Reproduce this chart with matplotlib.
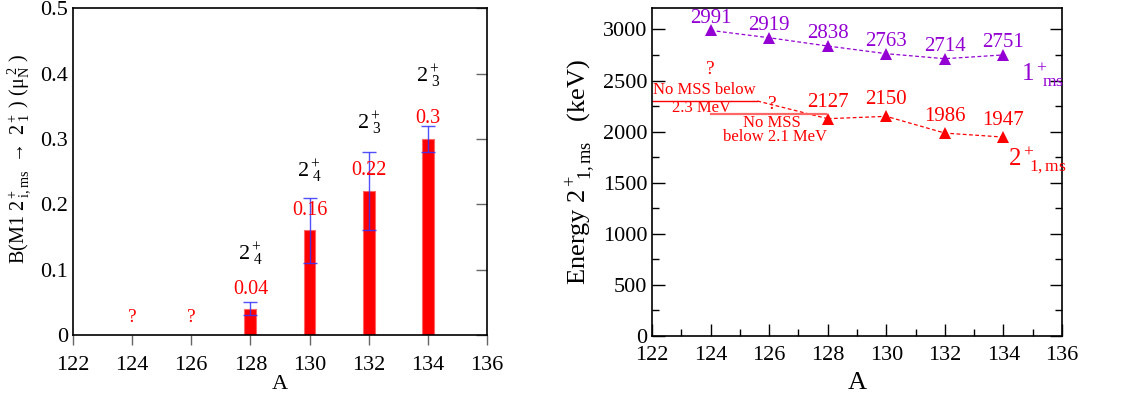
import matplotlib
matplotlib.use("Agg")
import matplotlib.pyplot as plt
from matplotlib.ticker import MultipleLocator, FuncFormatter

plt.rcParams['font.family'] = ['Liberation Serif', 'DejaVu Serif']
plt.rcParams['mathtext.fontset'] = 'custom'
plt.rcParams['mathtext.rm'] = 'Liberation Serif'
plt.rcParams['mathtext.it'] = 'Liberation Serif:italic'
plt.rcParams['mathtext.default'] = 'rm'

# ---------------- data ----------------
A_bar = [128, 130, 132, 134]
BM1 = [0.04, 0.16, 0.22, 0.30]
err_lo = [0.03, 0.11, 0.16, 0.28]
err_hi = [0.05, 0.21, 0.28, 0.32]
val_labels = ["0.04", "0.16", "0.22", "0.3"]
val_label_y = [0.07, 0.19, 0.252, 0.331]
state_labels = [r"2$^+_{\ 4}$", r"2$^+_{\ 4}$", r"2$^+_{\ 3}$", r"2$^+_{\ 3}$"]
state_label_y = [0.125, 0.252, 0.325, 0.397]
A_unknown = [124, 126]

A_1ms = [124, 126, 128, 130, 132, 134]
E_1ms = [2991, 2919, 2838, 2763, 2714, 2751]
A_2ms = [128, 130, 132, 134]
E_2ms = [2127, 2150, 1986, 1947]

red = '#ff0000'
purple = '#9400d3'
blue = '#3333ff'

fig = plt.figure(figsize=(11.28, 4.01), dpi=100)

# ---------------- left panel ----------------
ax1 = fig.add_axes([0.0647, 0.1646, 0.367, 0.815])
ax1.bar(A_bar, BM1, width=0.4, color=red, edgecolor='#ff6666', linewidth=0.8, zorder=2)
yerr = [[b - l for b, l in zip(BM1, err_lo)], [h - b for b, h in zip(BM1, err_hi)]]
ax1.errorbar(A_bar, BM1, yerr=yerr, fmt='none', ecolor=blue, elinewidth=1.0,
             capsize=5, capthick=1.0, zorder=3, alpha=0.85)
for a, t, y in zip(A_bar, val_labels, val_label_y):
    ax1.text(a, y, t, color=red, fontsize=14.5, ha='center', va='center', zorder=4)
for a, t, y in zip(A_bar, state_labels, state_label_y):
    ax1.text(a, y, t, color='black', fontsize=16, ha='center', va='center')
for a in A_unknown:
    ax1.text(a, 0.027, "?", color=red, fontsize=14, ha='center', va='center')

ax1.set_xlim(122, 136)
ax1.set_ylim(0, 0.5)
ax1.xaxis.set_major_locator(MultipleLocator(2))
ax1.yaxis.set_major_locator(MultipleLocator(0.1))
ax1.yaxis.set_major_formatter(FuncFormatter(lambda v, p: "0" if abs(v) < 1e-9 else f"{v:.1f}"))
ax1.tick_params(axis='x', direction='out', length=7, color='#666666', labelsize=16, width=1, pad=8)
ax1.tick_params(axis='y', left=False, right=True, direction='in', length=8, color='#666666',
                labelsize=16, width=1, pad=3.5)
for s in ax1.spines.values():
    s.set_linewidth(1.2)
ax1.set_xlabel("A", fontsize=16, labelpad=0)
ax1.set_ylabel(r"B(M1 2$^+_{\ i,ms}$ $\rightarrow$ 2$^+_{\ 1}$ ) ($\mu_N^{\ 2}$ )",
               fontsize=14.5)
ax1.yaxis.set_label_coords(-0.097, 0.54)

# ---------------- right panel ----------------
ax2 = fig.add_axes([0.578, 0.162, 0.3635, 0.818])
ax2.plot(A_1ms, E_1ms, linestyle=(0, (3, 2)), color=purple, linewidth=0.9,
         marker='^', markersize=8, markeredgewidth=0)
for a, e in zip(A_1ms, E_1ms):
    ax2.text(a, e + 120, str(e), color=purple, fontsize=15, ha='center', va='center')

ax2.plot(A_2ms, E_2ms, linestyle=(0, (3, 2)), color=red, linewidth=0.9,
         marker='^', markersize=8, markeredgewidth=0)
for a, e in zip(A_2ms, E_2ms):
    ax2.text(a, e + 160, str(e), color=red, fontsize=15, ha='center', va='center')

# limit lines for A=124,126
ax2.plot([122, 125.6], [2300, 2300], color=red, linewidth=1.0)
ax2.plot([125.6, A_2ms[0]], [2300, E_2ms[0]], color=red, linewidth=0.9, linestyle=(0, (3, 2)))
ax2.plot([124.0, 127.95], [2175, 2175], color='#ff6666', linewidth=1.6)
ax2.text(123.8, 2412, "No MSS below", color=red, fontsize=12, ha='center', va='center')
ax2.text(123.7, 2235, "2.3 MeV", color=red, fontsize=12, ha='center', va='center')
ax2.text(126.1, 2088, "No MSS", color=red, fontsize=12, ha='center', va='center')
ax2.text(126.2, 1951, "below 2.1 MeV", color=red, fontsize=12, ha='center', va='center')
ax2.text(124, 2608, "?", color=red, fontsize=14, ha='center', va='center')
ax2.text(126.1, 2265, "?", color=red, fontsize=14, ha='center', va='center')
ax2.text(134.6, 2560, r"1$^+_{\ \ ms}$", color=purple, fontsize=18, ha='left', va='center')
ax2.text(134.15, 1720, r"2$^+_{\ \ 1,ms}$", color=red, fontsize=18, ha='left', va='center')

ax2.set_xlim(122, 136)
ax2.set_ylim(0, 3210)
ax2.xaxis.set_major_locator(MultipleLocator(2))
ax2.xaxis.set_minor_locator(MultipleLocator(1))
ax2.yaxis.set_major_locator(MultipleLocator(500))
ax2.yaxis.set_minor_locator(MultipleLocator(250))
ax2.tick_params(which='both', direction='in', top=False, right=True, labelsize=16, width=1)
ax2.tick_params(axis='x', which='both', pad=7)
ax2.tick_params(axis='y', which='both', pad=3.5)
ax2.tick_params(which='major', length=9)
ax2.tick_params(which='minor', length=5)
for s in ax2.spines.values():
    s.set_linewidth(1.2)
ax2.set_xlabel("A", fontsize=19, labelpad=5)
ax2.set_ylabel(r"Energy 2$^+_{\ \ 1,ms}$   (keV)", fontsize=19, labelpad=4)

fig.savefig("out.png", dpi=100)
